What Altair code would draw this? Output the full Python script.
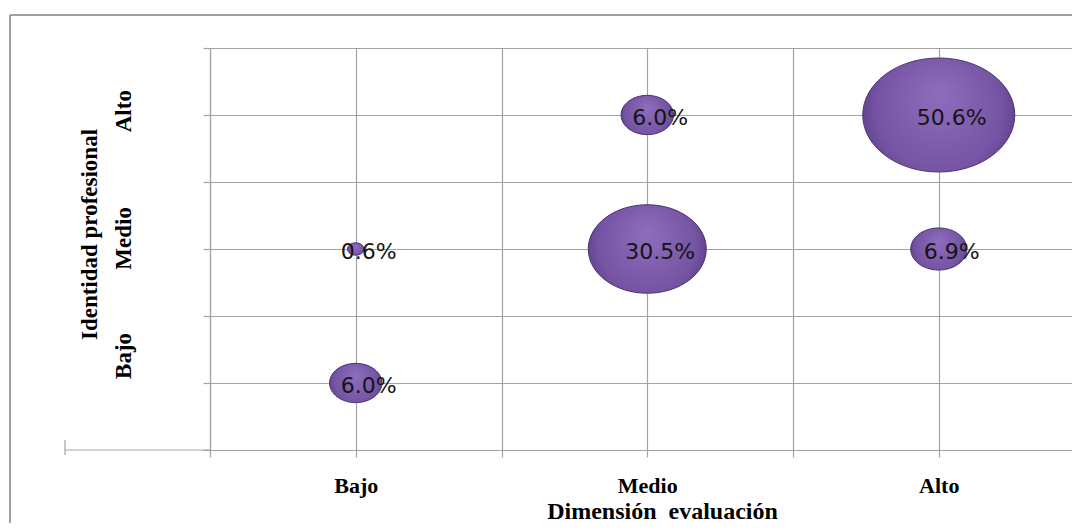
import json
import altair as alt
import pandas as pd

# ---- data ----
levels = ["Bajo", "Medio", "Alto"]
eval_level = ["Bajo", "Bajo", "Medio", "Medio", "Alto", "Alto"]      # Dimensión evaluación
ident_level = ["Bajo", "Medio", "Medio", "Alto", "Medio", "Alto"]    # Identidad profesional
pct = [6.0, 0.6, 30.5, 6.0, 6.9, 50.6]

x_title = "Dimensi\u00f3n\u00a0\u00a0evaluaci\u00f3n"
y_title = ["Identidad profesional",
           "Bajo" + "\u00a0" * 11 + "Medio" + "\u00a0" * 13 + "Alto"]

df = pd.DataFrame({"eval": eval_level, "ident": ident_level, "pct": pct})
df["xpos"] = [levels.index(v) + 1 for v in df["eval"]]
df["ypos"] = [levels.index(v) + 1 for v in df["ident"]]

GRID = "#a3a3a3"
SERIF = "Liberation Serif"
ELLIPSE = "M-1,0A1,0.75,0,1,1,1,0A1,0.75,0,1,1,-1,0Z"
tick_vals = [0.5, 1, 1.5, 2, 2.5, 3, 3.5]
label_expr = ("indexof([1,2,3], datum.value) >= 0 ? "
              + json.dumps(levels) + "[datum.value - 1] : ''")

W, H = 862, 402

x_enc = alt.X(
    "xpos:Q",
    scale=alt.Scale(domain=[0.5, 3.457], nice=False, zero=False),
    axis=alt.Axis(
        values=tick_vals, labelExpr=label_expr, title=x_title,
        grid=True, gridColor=GRID, gridWidth=1.2,
        domainColor=GRID, domainWidth=1.2,
        tickColor=GRID, tickWidth=1.2, tickSize=7,
        labelFont=SERIF, labelFontWeight="bold", labelFontSize=22,
        labelColor="black", labelPadding=18, labelOverlap=False, labelFlush=False,
        titleFont=SERIF, titleFontWeight="bold", titleFontSize=24, titleColor="black",
        titleX=452, titleY=68, titleBaseline="alphabetic",
    ),
)
y_enc = alt.Y(
    "ypos:Q",
    scale=alt.Scale(domain=[0.5, 3.5], nice=False, zero=False),
    axis=alt.Axis(
        values=tick_vals, labels=False, title=y_title,
        grid=True, gridColor=GRID, gridWidth=1.2,
        domainColor=GRID, domainWidth=1.2,
        tickColor=GRID, tickWidth=1.2, tickSize=7,
        titleFont=SERIF, titleFontWeight="bold", titleFontSize=23, titleColor="black",
        titleAngle=270, titleX=-114, titleY=186, titleAlign="center",
        titleBaseline="alphabetic", titleLineHeight=34,
    ),
)

base = alt.Chart(df).encode(x=x_enc, y=y_enc)

gradient = {
    "gradient": "radial",
    "x1": 0.5, "y1": 0.35, "r1": 0,
    "x2": 0.5, "y2": 0.5, "r2": 0.55,
    "stops": [
        {"offset": 0, "color": "#8d6ebd"},
        {"offset": 0.75, "color": "#7654a4"},
        {"offset": 1, "color": "#5a3e86"},
    ],
}

bubbles = base.mark_point(
    shape=ELLIPSE, filled=True, fill=gradient, stroke="#4b3373",
    strokeWidth=1, opacity=1,
).encode(
    size=alt.Size("pct:Q", scale=alt.Scale(zero=True, nice=False, range=[0, 23104]),
                  legend=None)
)

labels = base.transform_calculate(
    label="format(datum.pct, '.1f') + '%'"
).mark_text(
    font="DejaVu Sans", fontSize=22, color="#151515", dx=13, dy=3,
    align="center", baseline="middle",
).encode(text="label:N")

dec = pd.DataFrame({"k": [0]})
frame_top = alt.Chart(dec).mark_rule(color="#a0a0a0", strokeWidth=2).encode(
    x=alt.value(-200), x2=alt.value(W), y=alt.value(-33))
frame_left = alt.Chart(dec).mark_rule(color="#a0a0a0", strokeWidth=2).encode(
    x=alt.value(-200), y=alt.value(-33), y2=alt.value(480))
axis_ext = alt.Chart(dec).mark_rule(color=GRID, strokeWidth=1.2).encode(
    x=alt.value(-145), x2=alt.value(0), y=alt.value(H))
axis_ext_tick = alt.Chart(dec).mark_rule(color=GRID, strokeWidth=1.2).encode(
    x=alt.value(-145), y=alt.value(H - 10), y2=alt.value(H + 5))

chart = alt.layer(
    frame_top, frame_left, axis_ext, axis_ext_tick, bubbles, labels
).properties(
    width=W, height=H,
    autosize=alt.AutoSizeParams(type="none"),
    padding={"left": 202, "top": 40, "right": 0, "bottom": 73},
).configure_view(stroke=None)

chart.save("out.html", embed_options={"renderer": "svg", "actions": False})
